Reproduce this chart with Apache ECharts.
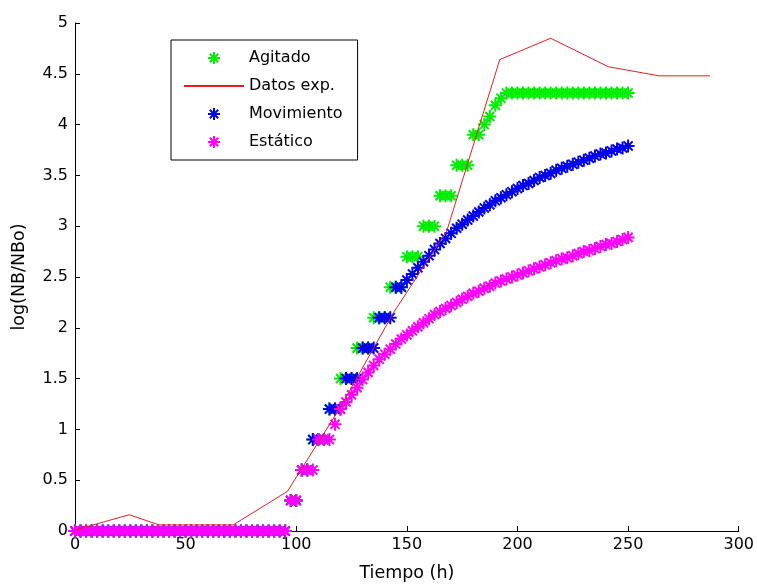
<!DOCTYPE html>
<html>
<head>
<meta charset="utf-8">
<script src="https://cdn.jsdelivr.net/npm/echarts@6/dist/echarts.min.js"></script>
<style>
html, body { margin: 0; padding: 0; background: #fff; }
#chart { width: 757px; height: 587px; }
</style>
</head>
<body>
<div id="chart"></div>
<script>
// tiempo de simulación (h), común a los tres modelos
const tiempo = [
  0, 2.5, 5, 7.5, 10, 12.5, 15, 17.5, 20, 22.5, 25, 27.5, 30, 32.5, 35, 37.5, 40, 42.5, 45, 47.5,
  50, 52.5, 55, 57.5, 60, 62.5, 65, 67.5, 70, 72.5, 75, 77.5, 80, 82.5, 85, 87.5, 90, 92.5, 95, 97.5,
  100, 102.5, 105, 107.5, 110, 112.5, 115, 117.5, 120, 122.5, 125, 127.5, 130, 132.5, 135, 137.5, 140, 142.5, 145, 147.5,
  150, 152.5, 155, 157.5, 160, 162.5, 165, 167.5, 170, 172.5, 175, 177.5, 180, 182.5, 185, 187.5, 190, 192.5, 195, 197.5,
  200, 202.5, 205, 207.5, 210, 212.5, 215, 217.5, 220, 222.5, 225, 227.5, 230, 232.5, 235, 237.5, 240, 242.5, 245, 247.5,
  250
]

const agitado = [
  0, 0, 0, 0, 0, 0, 0, 0, 0, 0, 0, 0, 0, 0, 0, 0, 0, 0, 0, 0,
  0, 0, 0, 0, 0, 0, 0, 0, 0, 0, 0, 0, 0, 0, 0, 0, 0, 0, 0, 0.3,
  0.3, 0.6, 0.6, 0.9, 0.9, 0.9, 1.2, 1.2, 1.5, 1.5, 1.5, 1.8, 1.8, 1.8, 2.1, 2.1, 2.1, 2.4, 2.4, 2.4,
  2.7, 2.7, 2.7, 3.0, 3.0, 3.0, 3.3, 3.3, 3.3, 3.6, 3.6, 3.6, 3.9, 3.9, 4.0, 4.08, 4.19, 4.26, 4.31, 4.31,
  4.31, 4.31, 4.31, 4.31, 4.31, 4.31, 4.31, 4.31, 4.31, 4.31, 4.31, 4.31, 4.31, 4.31, 4.31, 4.31, 4.31, 4.31, 4.31, 4.31,
  4.31
]

const movimiento = [
  0, 0, 0, 0, 0, 0, 0, 0, 0, 0, 0, 0, 0, 0, 0, 0, 0, 0, 0, 0,
  0, 0, 0, 0, 0, 0, 0, 0, 0, 0, 0, 0, 0, 0, 0, 0, 0, 0, 0, 0.3,
  0.3, 0.6, 0.6, 0.9, 0.9, 0.9, 1.2, 1.2, 1.2, 1.5, 1.5, 1.5, 1.8, 1.8, 1.8, 2.1, 2.1, 2.1, 2.4, 2.4,
  2.47, 2.53, 2.59, 2.65, 2.71, 2.77, 2.83, 2.88, 2.93, 2.98, 3.02, 3.06, 3.10, 3.14, 3.18, 3.21, 3.25, 3.28, 3.31, 3.34,
  3.37, 3.40, 3.42, 3.45, 3.48, 3.50, 3.52, 3.55, 3.57, 3.59, 3.61, 3.63, 3.65, 3.67, 3.69, 3.71, 3.72, 3.74, 3.76, 3.77,
  3.79
]

const estatico = [
  0, 0, 0, 0, 0, 0, 0, 0, 0, 0, 0, 0, 0, 0, 0, 0, 0, 0, 0, 0,
  0, 0, 0, 0, 0, 0, 0, 0, 0, 0, 0, 0, 0, 0, 0, 0, 0, 0, 0, 0.3,
  0.3, 0.6, 0.6, 0.6, 0.9, 0.9, 0.9, 1.05, 1.2, 1.27, 1.34, 1.41, 1.49, 1.56, 1.63, 1.69, 1.74, 1.79, 1.84, 1.89,
  1.93, 1.97, 2.01, 2.05, 2.09, 2.13, 2.16, 2.19, 2.22, 2.25, 2.28, 2.31, 2.34, 2.36, 2.39, 2.41, 2.44, 2.46, 2.48, 2.50,
  2.52, 2.54, 2.56, 2.58, 2.60, 2.62, 2.64, 2.66, 2.68, 2.69, 2.71, 2.73, 2.75, 2.76, 2.78, 2.80, 2.82, 2.83, 2.85, 2.87,
  2.89
]

// datos experimentales
const expTiempo = [0, 24.5, 38, 71.5, 96, 120, 144, 168, 192, 215, 241, 264, 287]
const expValor = [0.01, 0.16, 0.06, 0.06, 0.39, 1.22, 2.15, 2.95, 4.64, 4.85, 4.57, 4.48, 4.48]

const FONT = 'DejaVu Sans'
// marcador '*' estilo MATLAB: cruz + aspa
const STAR = 'path://M0,5L10,5M5,0L5,10M1.5,1.5L8.5,8.5M8.5,1.5L1.5,8.5'

function pares(xs, ys) {
  return xs.map((x, i) => [x, ys[i]])
}

function starSeries(name, color, values) {
  return {
    name: name,
    type: 'scatter',
    data: pares(tiempo, values),
    symbol: STAR,
    symbolSize: 13,
    itemStyle: { color: color, borderColor: color, borderWidth: 2, opacity: 1 },
    silent: true
  }
}

const chart = echarts.init(document.getElementById('chart'))
chart.setOption({
  animation: false,
  backgroundColor: '#fff',
  grid: { left: 75, right: 18, top: 23, bottom: 55 },
  legend: {
    orient: 'vertical',
    left: 171,
    top: 40,
    itemWidth: 60,
    itemHeight: 12,
    itemGap: 12,
    padding: [10, 15, 10, 12],
    borderColor: '#000',
    borderWidth: 1,
    textStyle: { fontSize: 16, color: '#000', fontFamily: FONT },
    data: [
      'Agitado',
      { name: 'Datos exp.', itemStyle: { opacity: 0 } },
      'Movimiento',
      'Estático'
    ]
  },
  xAxis: {
    type: 'value',
    min: 0,
    max: 300,
    interval: 50,
    name: 'Tiempo (h)',
    nameLocation: 'middle',
    nameGap: 33,
    nameTextStyle: { fontSize: 17.5, color: '#000', fontFamily: FONT },
    axisLine: { show: true, lineStyle: { color: '#000', width: 1 } },
    axisTick: { show: true, inside: true, length: 5, lineStyle: { color: '#000' } },
    axisLabel: { color: '#000', fontSize: 16, margin: 6, fontFamily: FONT },
    splitLine: { show: false }
  },
  yAxis: {
    type: 'value',
    min: 0,
    max: 5,
    interval: 0.5,
    name: 'log(NB/NBo)',
    nameLocation: 'middle',
    nameGap: 47,
    nameTextStyle: { fontSize: 17.5, color: '#000', fontFamily: FONT },
    axisLine: { show: true, lineStyle: { color: '#000', width: 1 } },
    axisTick: { show: true, inside: true, length: 5, lineStyle: { color: '#000' } },
    axisLabel: { color: '#000', fontSize: 16, margin: 7, fontFamily: FONT },
    splitLine: { show: false }
  },
  series: [
    starSeries('Agitado', '#00ee00', agitado),
    {
      name: 'Datos exp.',
      type: 'line',
      data: pares(expTiempo, expValor),
      symbol: 'none',
      lineStyle: { color: '#e02020', width: 1 },
      itemStyle: { color: '#e02020' },
      silent: true
    },
    starSeries('Movimiento', '#0000f0', movimiento),
    starSeries('Estático', '#ff00ff', estatico)
  ]
})
</script>
</body>
</html>
